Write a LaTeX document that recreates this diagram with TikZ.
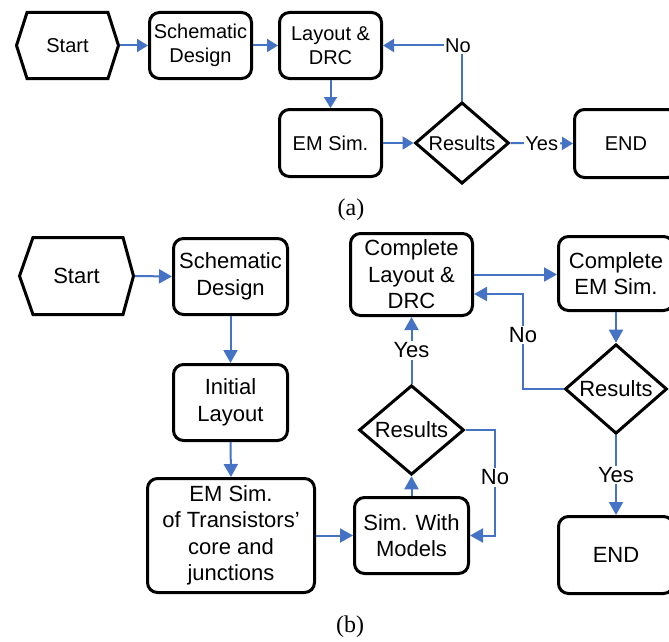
\documentclass[tikz,border=0pt]{standalone}
\usepackage{fontspec}
\setmainfont{Liberation Serif}
\setsansfont{Liberation Sans}
\usetikzlibrary{shapes.geometric,arrows.meta,calc}
\definecolor{linkblue}{RGB}{68,114,196}
\tikzset{
  fa/.style={font=\sffamily\fontsize{20}{24}\selectfont},
  fb/.style={font=\sffamily\fontsize{22}{26.5}\selectfont},
  procbox/.style={draw=black, line width=3pt, rounded corners=10pt, align=center, inner sep=0pt},
  decbox/.style={draw=black, line width=3pt, diamond, inner sep=0pt},
  hexlbl/.style={draw=none, inner sep=0pt, outer sep=0pt},
  hexline/.style={draw=black, line width=3pt, line join=miter},
  flow/.style={draw=linkblue, line width=2pt, -{Triangle[length=11pt,width=13pt]}},
  flowb/.style={draw=linkblue, line width=2pt, -{Triangle[length=13pt,width=14pt]}},
  lbl/.style={fill=white, inner sep=1.5pt},
  caption/.style={font=\rmfamily\fontsize{24}{28}\selectfont},
}
\begin{document}
\begin{tikzpicture}[x=1pt,y=-1pt]
\useasboundingbox (0,0) rectangle (669,642);
\clip (0,0) rectangle (669,642);

% ---------------- (a) ----------------
\node[hexlbl, fa, minimum width=105pt, minimum height=69pt] (startA) at (67.5,45.5) {Start};
\draw[hexline] (16.5,45.5) -- (27,12.5) -- (108,12.5) -- (118.5,45.5) -- (108,78.5) -- (27,78.5) -- cycle;
\node[procbox, fa, minimum width=102pt, minimum height=66pt] (schA) at (200.5,45.5) {Schematic\\Design};
\node[procbox, fa, minimum width=102pt, minimum height=66pt] (layA) at (330.5,45.5) {Layout \&\\DRC};
\node[procbox, fa, minimum width=102pt, minimum height=67pt] (emA) at (330.5,143) {EM Sim.};
\node[decbox, fa, minimum width=94pt, minimum height=59pt] (resA) at (462,143) {Results};
\node[procbox, fa, minimum width=103pt, minimum height=68pt] (endA) at (626,143.5) {END};

\draw[flow] (startA.east) -- (schA.west);
\draw[flow] (schA.east) -- (layA.west);
\draw[flow] (layA.south) -- (emA.north);
\draw[flow] (emA.east) -- (resA.west);
\draw[flow] (resA.east) -- node[lbl, fa] {Yes} (endA.west);
\draw[flow] (resA.north) |- node[lbl, fa, pos=0.5, xshift=-4pt] {No} (layA.east);

\node[caption] (capA) at (351,210) {(a)};

% ---------------- (b) ----------------
\node[hexlbl, fb, minimum width=117pt, minimum height=80pt] (startB) at (76.5,276) {Start};
\draw[hexline] (19.5,276) -- (33,237.5) -- (123,237.5) -- (133.5,276) -- (123,314.5) -- (33,314.5) -- cycle;
\node[procbox, fb, minimum width=114pt, minimum height=76pt] (schB) at (230.5,276.5) {Schematic\\Design};
\node[procbox, fb, minimum width=114pt, minimum height=76pt] (initB) at (230.5,402.5) {Initial\\Layout};
\node[procbox, fb, minimum width=167pt, minimum height=114pt] (emB) at (231,535.5) {EM Sim.\\of Transistors'\\core and\\junctions};
\node[procbox, fb, minimum width=114pt, minimum height=76pt] (simB) at (411.5,535.5) {Sim. With\\Models};
\node[decbox, fb, minimum width=105pt, minimum height=70pt] (resB1) at (411.5,430) {Results};
\node[procbox, fb, minimum width=122pt, minimum height=82pt] (clB) at (411.5,274.5) {Complete\\Layout \&\\DRC};
\node[procbox, fb, minimum width=115pt, minimum height=74pt] (cemB) at (616,273.5) {Complete\\EM Sim.};
\node[decbox, fb, minimum width=102pt, minimum height=68pt] (resB2) at (616,389) {Results};
\node[procbox, fb, minimum width=115pt, minimum height=77pt] (endB) at (616,555) {END};

\draw[flowb] (startB.east) -- (schB.west);
\draw[flowb] (schB.south) -- (initB.north);
\draw[flowb] (initB.south) -- (emB.north);
\draw[flowb] (emB.east) -- (simB.west);
\draw[flowb] (simB.north) -- (resB1.south);
\draw[flowb] (resB1.north) -- node[lbl, fb] {Yes} (clB.south);
\coordinate (noB1) at (495,430);
\draw[flowb] (resB1.east) -- (noB1) -- node[lbl, fb, pos=0.45] {No} (noB1 |- simB.east) -- (simB.east);
\draw[flowb] (clB.east) -- (clB.east -| cemB.west);
\draw[flowb] (cemB.south) -- (resB2.north);
\draw[flowb] (resB2.south) -- node[lbl, fb] {Yes} (endB.north);
\coordinate (noB2) at (523,389);
\coordinate (clIn) at ($(clB.east)+(0,19.5)$);
\draw[flowb] (resB2.west) -- (noB2) -- node[lbl, fb, pos=0.57] {No} (noB2 |- clIn) -- (clIn);

\node[caption] (capB) at (350,627) {(b)};
\end{tikzpicture}
\end{document}
